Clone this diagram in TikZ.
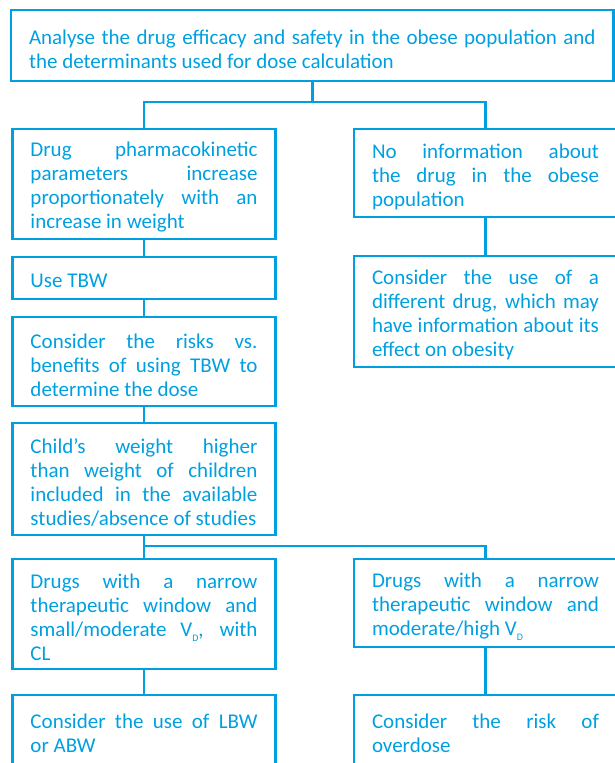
\documentclass[tikz,border=0pt]{standalone}
\usepackage{fontspec}
\setmainfont{Carlito}
\definecolor{cblue}{RGB}{0,160,224}
\newcommand\boxfont{\fontsize{21}{24}\selectfont\hyphenpenalty=10000\tolerance=10000\emergencystretch=0pt}
\newcommand\tup{\rule{0pt}{21.5pt}}
\newcommand\subD{\raisebox{-5pt}{\fontsize{10}{10}\selectfont D}}
\tikzset{
  box/.style={draw=cblue, line width=2.8pt, rectangle, inner xsep=18pt, inner ysep=0pt,
    outer sep=0pt, text width=227pt, align=justify, anchor=north west, text=cblue, font=\boxfont},
  widebox/.style={text width=566.5pt},
  conn/.style={draw=cblue, line width=2.8pt}
}
\begin{document}
\begin{tikzpicture}[x=1pt,y=-1pt]
\useasboundingbox (0,0) rectangle (615,763);
\clip (0,0) rectangle (615,763);
\node[box, widebox, minimum height=71pt] (top) at (11,10)
  {\tup Analyse the drug efficacy and safety in the obese population and\linebreak the determinants used for dose calculation};
\node[box, minimum height=110pt] (A) at (12.5,129)
  {\tup Drug pharmacokinetic\linebreak parameters increase\linebreak proportionately with an\linebreak increase in weight};
\node[box, minimum height=88pt] (B) at (354,129)
  {\tup No information about\linebreak the drug in the obese\linebreak population};
\node[box, minimum height=111pt] (C) at (354,256)
  {\tup Consider the use of a\linebreak different drug, which may\linebreak have information about its\linebreak effect on obesity};
\node[box, minimum height=42pt] (tbw) at (12.5,257) {\rule{0pt}{19pt}Use TBW};
\node[box, minimum height=89pt] (risk) at (12.5,317)
  {\tup Consider the risks vs.\linebreak benefits of using TBW to\linebreak determine the dose};
\node[box, minimum height=112pt] (child) at (12.5,423)
  {\tup Child’s weight higher\linebreak than weight of children\linebreak included in the available\linebreak studies/absence of studies};
\node[box, minimum height=110pt] (L5) at (12.5,559)
  {\tup Drugs with a narrow\linebreak therapeutic window and\linebreak small/moderate V\subD, with\linebreak CL};
\node[box, minimum height=88pt] (R5) at (354,559)
  {\tup Drugs with a narrow\linebreak therapeutic window and\linebreak moderate/high V\subD};
\node[box, minimum height=77pt] (LB) at (12.5,695)
  {Consider the use of LBW\linebreak or ABW};
\node[box, minimum height=77pt] (RB) at (354,695)
  {Consider the risk of\linebreak overdose};
\coordinate (j1) at (312,102);
\coordinate (j2) at (144,546);
\draw[conn] (top.south) -- (top.south |- j1);
\draw[conn] (A.north) -- (A.north |- j1) -- (B.north |- j1) -- (B.north);
\draw[conn] (B.south) -- (C.north);
\draw[conn] (A.south) -- (tbw.north);
\draw[conn] (tbw.south) -- (risk.north);
\draw[conn] (risk.south) -- (child.north);
\draw[conn] (child.south) -- (L5.north);
\draw[conn] (L5.north |- j2) -- (R5.north |- j2) -- (R5.north);
\draw[conn] (L5.south) -- (LB.north);
\draw[conn] (R5.south) -- (RB.north);
\end{tikzpicture}
\end{document}
